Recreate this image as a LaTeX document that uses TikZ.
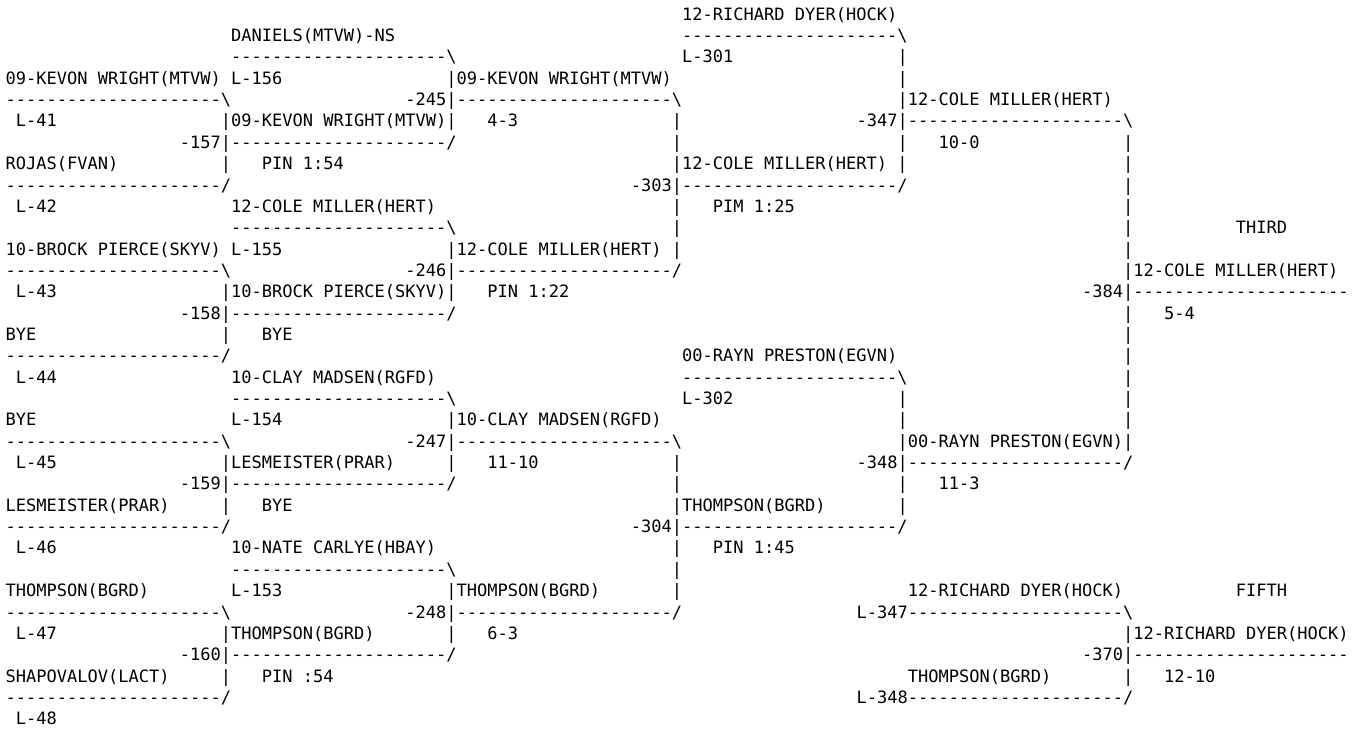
\documentclass[tikz,border=0pt]{standalone}
\usepackage{fontspec}
\setmonofont{DejaVu Sans Mono}
\newcommand{\Dsh}{---------------------}
\newcommand{\seg}[4]{\node[seg] (#1) at ({5.5pt+#3*10.253pt},{-20.2pt-#2*21.35pt}) {#4};}
\tikzset{seg/.style={anchor=base west, inner sep=0pt, outer sep=0pt,
  font=\ttfamily\fontsize{17.03pt}{20pt}\selectfont, text=black}}
\begin{document}
\begin{tikzpicture}
\fill[white] (0,0) rectangle (1363pt,-729pt);
\useasboundingbox (0,0) rectangle (1363pt,-729pt);
% row 0
\seg{r0a}{0}{66}{12-RICHARD DYER(HOCK)}
% row 1
\seg{r1a}{1}{22}{DANIELS(MTVW)-NS}
\seg{r1b}{1}{66}{\Dsh\textbackslash}
% row 2
\seg{r2a}{2}{22}{\Dsh\textbackslash}
\seg{r2b}{2}{66}{L-301}
\seg{r2c}{2}{87}{|}
% row 3
\seg{r3a}{3}{0}{09-KEVON WRIGHT(MTVW)}
\seg{r3b}{3}{22}{L-156}
\seg{r3c}{3}{43}{|09-KEVON WRIGHT(MTVW)}
\seg{r3d}{3}{87}{|}
% row 4
\seg{r4a}{4}{0}{\Dsh\textbackslash}
\seg{r4b}{4}{39}{-245|\Dsh\textbackslash}
\seg{r4c}{4}{87}{|12-COLE MILLER(HERT)}
% row 5
\seg{r5a}{5}{1}{L-41}
\seg{r5b}{5}{21}{|09-KEVON WRIGHT(MTVW)|}
\seg{r5c}{5}{47}{4-3}
\seg{r5d}{5}{65}{|}
\seg{r5e}{5}{83}{-347|\Dsh\textbackslash}
% row 6
\seg{r6a}{6}{17}{-157|\Dsh/}
\seg{r6b}{6}{65}{|}
\seg{r6c}{6}{87}{|}
\seg{r6d}{6}{91}{10-0}
\seg{r6e}{6}{109}{|}
% row 7
\seg{r7a}{7}{0}{ROJAS(FVAN)}
\seg{r7b}{7}{21}{|}
\seg{r7c}{7}{25}{PIN 1:54}
\seg{r7d}{7}{65}{|12-COLE MILLER(HERT) |}
\seg{r7e}{7}{109}{|}
% row 8
\seg{r8a}{8}{0}{\Dsh/}
\seg{r8b}{8}{61}{-303|\Dsh/}
\seg{r8c}{8}{109}{|}
% row 9
\seg{r9a}{9}{1}{L-42}
\seg{r9b}{9}{22}{12-COLE MILLER(HERT)}
\seg{r9c}{9}{65}{|}
\seg{r9d}{9}{69}{PIM 1:25}
\seg{r9e}{9}{109}{|}
% row 10
\seg{r10a}{10}{22}{\Dsh\textbackslash}
\seg{r10b}{10}{65}{|}
\seg{r10c}{10}{109}{|}
\seg{r10d}{10}{120}{THIRD}
% row 11
\seg{r11a}{11}{0}{10-BROCK PIERCE(SKYV)}
\seg{r11b}{11}{22}{L-155}
\seg{r11c}{11}{43}{|12-COLE MILLER(HERT) |}
\seg{r11d}{11}{109}{|}
% row 12
\seg{r12a}{12}{0}{\Dsh\textbackslash}
\seg{r12b}{12}{39}{-246|\Dsh/}
\seg{r12c}{12}{109}{|12-COLE MILLER(HERT)}
% row 13
\seg{r13a}{13}{1}{L-43}
\seg{r13b}{13}{21}{|10-BROCK PIERCE(SKYV)|}
\seg{r13c}{13}{47}{PIN 1:22}
\seg{r13d}{13}{105}{-384|\Dsh}
% row 14
\seg{r14a}{14}{17}{-158|\Dsh/}
\seg{r14b}{14}{109}{|}
\seg{r14c}{14}{113}{5-4}
% row 15
\seg{r15a}{15}{0}{BYE}
\seg{r15b}{15}{21}{|}
\seg{r15c}{15}{25}{BYE}
\seg{r15d}{15}{109}{|}
% row 16
\seg{r16a}{16}{0}{\Dsh/}
\seg{r16b}{16}{66}{00-RAYN PRESTON(EGVN)}
\seg{r16c}{16}{109}{|}
% row 17
\seg{r17a}{17}{1}{L-44}
\seg{r17b}{17}{22}{10-CLAY MADSEN(RGFD)}
\seg{r17c}{17}{66}{\Dsh\textbackslash}
\seg{r17d}{17}{109}{|}
% row 18
\seg{r18a}{18}{22}{\Dsh\textbackslash}
\seg{r18b}{18}{66}{L-302}
\seg{r18c}{18}{87}{|}
\seg{r18d}{18}{109}{|}
% row 19
\seg{r19a}{19}{0}{BYE}
\seg{r19b}{19}{22}{L-154}
\seg{r19c}{19}{43}{|10-CLAY MADSEN(RGFD)}
\seg{r19d}{19}{87}{|}
\seg{r19e}{19}{109}{|}
% row 20
\seg{r20a}{20}{0}{\Dsh\textbackslash}
\seg{r20b}{20}{39}{-247|\Dsh\textbackslash}
\seg{r20c}{20}{87}{|00-RAYN PRESTON(EGVN)|}
% row 21
\seg{r21a}{21}{1}{L-45}
\seg{r21b}{21}{21}{|LESMEISTER(PRAR)}
\seg{r21c}{21}{43}{|}
\seg{r21d}{21}{47}{11-10}
\seg{r21e}{21}{65}{|}
\seg{r21f}{21}{83}{-348|\Dsh/}
% row 22
\seg{r22a}{22}{17}{-159|\Dsh/}
\seg{r22b}{22}{65}{|}
\seg{r22c}{22}{87}{|}
\seg{r22d}{22}{91}{11-3}
% row 23
\seg{r23a}{23}{0}{LESMEISTER(PRAR)}
\seg{r23b}{23}{21}{|}
\seg{r23c}{23}{25}{BYE}
\seg{r23d}{23}{65}{|THOMPSON(BGRD)}
\seg{r23e}{23}{87}{|}
% row 24
\seg{r24a}{24}{0}{\Dsh/}
\seg{r24b}{24}{61}{-304|\Dsh/}
% row 25
\seg{r25a}{25}{1}{L-46}
\seg{r25b}{25}{22}{10-NATE CARLYE(HBAY)}
\seg{r25c}{25}{65}{|}
\seg{r25d}{25}{69}{PIN 1:45}
% row 26
\seg{r26a}{26}{22}{\Dsh\textbackslash}
\seg{r26b}{26}{65}{|}
% row 27
\seg{r27a}{27}{0}{THOMPSON(BGRD)}
\seg{r27b}{27}{22}{L-153}
\seg{r27c}{27}{43}{|THOMPSON(BGRD)}
\seg{r27d}{27}{65}{|}
\seg{r27e}{27}{88}{12-RICHARD DYER(HOCK)}
\seg{r27f}{27}{120}{FIFTH}
% row 28
\seg{r28a}{28}{0}{\Dsh\textbackslash}
\seg{r28b}{28}{39}{-248|\Dsh/}
\seg{r28c}{28}{83}{L-347\Dsh\textbackslash}
% row 29
\seg{r29a}{29}{1}{L-47}
\seg{r29b}{29}{21}{|THOMPSON(BGRD)}
\seg{r29c}{29}{43}{|}
\seg{r29d}{29}{47}{6-3}
\seg{r29e}{29}{109}{|12-RICHARD DYER(HOCK)}
% row 30
\seg{r30a}{30}{17}{-160|\Dsh/}
\seg{r30b}{30}{105}{-370|\Dsh}
% row 31
\seg{r31a}{31}{0}{SHAPOVALOV(LACT)}
\seg{r31b}{31}{21}{|}
\seg{r31c}{31}{25}{PIN :54}
\seg{r31d}{31}{88}{THOMPSON(BGRD)}
\seg{r31e}{31}{109}{|}
\seg{r31f}{31}{113}{12-10}
% row 32
\seg{r32a}{32}{0}{\Dsh/}
\seg{r32b}{32}{83}{L-348\Dsh/}
% row 33
\seg{r33a}{33}{1}{L-48}
\end{tikzpicture}
\end{document}
